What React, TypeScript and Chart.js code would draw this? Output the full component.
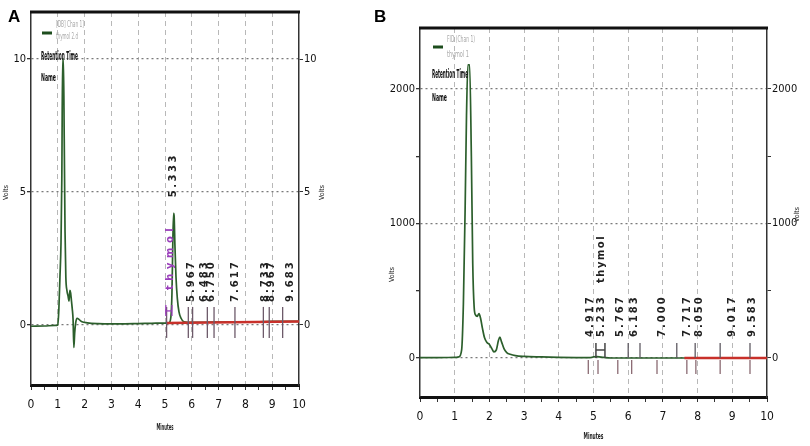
import { useEffect, useRef } from 'react';
import { Chart, registerables } from 'chart.js';

Chart.register(...registerables);

// ---------- shared axis values ----------
const MINUTE_TICKS = [0, 0.5, 1, 1.5, 2, 2.5, 3, 3.5, 4, 4.5, 5, 5.5, 6, 6.5, 7, 7.5, 8, 8.5, 9, 9.5, 10];
const MINUTE_LABELS = [0, 1, 2, 3, 4, 5, 6, 7, 8, 9, 10];

// ---------- panel A (Volts) ----------
const TIME_A = [0, 0.5, 0.9, 1.0, 1.04, 1.08, 1.12, 1.15, 1.18, 1.21, 1.24, 1.27, 1.3, 1.34, 1.38, 1.42, 1.45, 1.48, 1.51, 1.54, 1.57, 1.6, 1.63, 1.67, 1.72, 1.8, 1.9, 2.1, 2.5, 3.0, 3.5, 4.0, 4.5, 5.0, 5.15, 5.22, 5.26, 5.29, 5.32, 5.34, 5.37, 5.41, 5.46, 5.52, 5.6, 5.7, 5.85, 6.5, 7.0, 7.5, 8.0, 8.5, 9.0, 9.5, 10];
const SIGNAL_A = [-0.05, -0.04, -0.02, 0.0, 0.6, 1.8, 3.1, 5.5, 10.0, 10.0, 7.0, 3.5, 1.8, 1.3, 1.1, 0.9, 1.3, 1.2, 0.9, 0.6, 0.2, -0.85, -0.3, 0.1, 0.25, 0.2, 0.12, 0.08, 0.05, 0.04, 0.04, 0.05, 0.06, 0.07, 0.08, 0.3, 1.2, 3.0, 4.2, 4.1, 3.0, 1.8, 1.0, 0.5, 0.25, 0.12, 0.1, 0.1, 0.11, 0.11, 0.12, 0.12, 0.13, 0.13, 0.13];
const INTEG_TIME_A = [5.06, 10];
const INTEG_SIGNAL_A = [0.07, 0.13];
const PEAK_TIME_A = [5.967, 6.483, 6.75, 7.617, 8.733, 8.967, 9.683];
const PEAK_LABEL_A = ['5.967', '6.483', '6.750', '7.617', '8.733', '8.967', '9.683'];
const MARK_TIME_A = [5.06, 5.87, 6.03, 6.58, 6.83, 7.61, 8.67, 8.89, 9.39];
const THYMOL_TIME_A = 5.333;
const THYMOL_HEIGHT_A = 4.2;
const BRACKET_A = [5.03, 5.26];
const Y_TICKS_A = [0, 5, 10];
const Y_LABELS_A = [0, 5, 10];

// ---------- panel B (mVolts) ----------
const TIME_B = [0, 0.5, 1.0, 1.12, 1.2, 1.25, 1.3, 1.34, 1.38, 1.43, 1.48, 1.52, 1.56, 1.6, 1.65, 1.7, 1.75, 1.8, 1.86, 1.93, 2.0, 2.07, 2.13, 2.2, 2.26, 2.3, 2.35, 2.42, 2.5, 2.6, 2.75, 3.0, 3.5, 4.0, 4.5, 4.9, 5.0, 5.1, 5.3, 5.5, 6, 7, 8, 9, 10];
const SIGNAL_B = [3, 3, 4, 8, 60, 400, 1100, 1800, 2180, 2180, 1500, 700, 380, 320, 310, 330, 290, 220, 150, 115, 100, 70, 45, 60, 130, 155, 120, 70, 40, 28, 18, 12, 8, 5, 3, 2, 8, 10, 4, 0, 0, 0, 0, 0, 0];
const INTEG_TIME_B = [7.62, 10];
const INTEG_SIGNAL_B = [0, 0];
const PEAK_TIME_B = [4.917, 5.233, 5.767, 6.183, 7.0, 7.717, 8.05, 9.017, 9.583];
const PEAK_LABEL_B = ['4.917', '5.233', '5.767', '6.183', '7.000', '7.717', '8.050', '9.017', '9.583'];
const MARK_UP_B = [6.0, 6.34, 7.4, 7.93, 8.65, 9.51];
const MARK_DOWN_B = [4.85, 5.13, 5.7, 6.1, 6.83, 7.69, 7.95, 8.65, 9.51];
const THYMOL_TIME_B = 5.21;
const BRACKET_B = [5.07, 5.33];
const Y_TICKS_B = [0, 500, 1000, 1500, 2000];
const Y_LABELS_B = [0, 1000, 2000];

const NARROW = "'Liberation Sans Narrow', 'DejaVu Sans Condensed', 'Liberation Sans', sans-serif";

type Cfg = {
  key: string;
  left: number; width: number; height: number;
  leftW: number; rightW: number; top: number; xAxisH: number;
  yMin: number; yMax: number; yTicks: number[]; yLabels: number[];
  time: number[]; signal: number[]; integT: number[]; integS: number[];
  draw: (ctx: CanvasRenderingContext2D, X: (t: number) => number, Y: (v: number) => number, a: any) => void;
};

function vtext(ctx: CanvasRenderingContext2D, s: string, x: number, yBottom: number, font: string, color: string, spacing: string) {
  ctx.save();
  ctx.translate(x, yBottom);
  ctx.rotate(-Math.PI / 2);
  ctx.font = font;
  ctx.fillStyle = color;
  ctx.textAlign = 'left';
  ctx.textBaseline = 'middle';
  (ctx as any).letterSpacing = spacing;
  ctx.fillText(s, 0, 0);
  ctx.restore();
}

function htext(ctx: CanvasRenderingContext2D, s: string, x: number, y: number, font: string, color: string, maxW?: number, align: CanvasTextAlign = 'left') {
  ctx.save();
  ctx.font = font;
  ctx.fillStyle = color;
  ctx.textAlign = align;
  ctx.textBaseline = 'middle';
  if (maxW) ctx.fillText(s, x, y, maxW); else ctx.fillText(s, x, y);
  ctx.restore();
}

function vline(ctx: CanvasRenderingContext2D, x: number, y1: number, y2: number, color: string, w: number) {
  ctx.save();
  ctx.strokeStyle = color;
  ctx.lineWidth = w;
  ctx.beginPath();
  ctx.moveTo(x, y1);
  ctx.lineTo(x, y2);
  ctx.stroke();
  ctx.restore();
}

function legendBlock(ctx: CanvasRenderingContext2D, x: number, yLine: number, l1: string, l2: string, y1: number, y2: number, yRT: number, yName: number, rtW: number) {
  ctx.save();
  ctx.strokeStyle = '#1d4d1d';
  ctx.lineWidth = 3;
  ctx.beginPath();
  ctx.moveTo(x + 1, yLine);
  ctx.lineTo(x + 11, yLine);
  ctx.stroke();
  ctx.restore();
  htext(ctx, l1, x + 15, y1, `8px ${NARROW}`, '#a8a8a8', 28);
  htext(ctx, l2, x + 15, y2, `8px ${NARROW}`, '#a8a8a8', 22);
  htext(ctx, 'Retention Time', x, yRT, `bold 12px ${NARROW}`, '#111', rtW);
  htext(ctx, 'Name', x, yName, `bold 11px ${NARROW}`, '#111', 15);
}

const cfgA: Cfg = {
  key: 'A', left: 0, width: 370, height: 446,
  leftW: 31, rightW: 71, top: 12, xAxisH: 61,
  yMin: -2.26, yMax: 11.77, yTicks: Y_TICKS_A, yLabels: Y_LABELS_A,
  time: TIME_A, signal: SIGNAL_A, integT: INTEG_TIME_A, integS: INTEG_SIGNAL_A,
  draw: (ctx, X, Y, a) => {
    const y0 = Y(0);
    MARK_TIME_A.forEach((t) => vline(ctx, X(t), y0 - 18, y0 + 13, '#6d5a6a', 1.3));
    PEAK_TIME_A.forEach((t, i) => vtext(ctx, PEAK_LABEL_A[i], X(t), y0 - 23, `bold 10px 'DejaVu Sans'`, '#222', '2px'));
    vtext(ctx, 'thymol', X(THYMOL_TIME_A) - 4, y0 - 35, `bold 10px 'DejaVu Sans'`, '#9a3dbb', '4.5px');
    vtext(ctx, THYMOL_TIME_A.toFixed(3), X(THYMOL_TIME_A) - 1, Y(THYMOL_HEIGHT_A) - 16, `bold 10px 'DejaVu Sans'`, '#222', '2.5px');
    const bx1 = X(BRACKET_A[0]), bx2 = X(BRACKET_A[1]);
    vline(ctx, bx1, y0 - 20, y0 - 9, '#9a3dbb', 1.3);
    vline(ctx, bx2, y0 - 20, y0 - 9, '#9a3dbb', 1.3);
    ctx.save(); ctx.strokeStyle = '#9a3dbb'; ctx.lineWidth = 1.3;
    ctx.beginPath(); ctx.moveTo(bx1, y0 - 14); ctx.lineTo(bx2, y0 - 14); ctx.stroke(); ctx.restore();
    legendBlock(ctx, 41, 33, '[DB] Chan 1]', 'thymol 2.d', 25, 37, 57, 78, 37);
    htext(ctx, 'A', 8, 17, `bold 17px 'Liberation Sans', sans-serif`, '#000');
    vtext(ctx, 'Volts', 6, 200, `7px ${NARROW}`, '#222', '0px');
    vtext(ctx, 'Volts', 322, 200, `7px ${NARROW}`, '#222', '0px');
    htext(ctx, 'Minutes', (a.left + a.right) / 2, 428, `bold 9px ${NARROW}`, '#222', 17, 'center');
  },
};

const cfgB: Cfg = {
  key: 'B', left: 370, width: 440, height: 446,
  leftW: 50, rightW: 43, top: 28, xAxisH: 49,
  yMin: -290, yMax: 2453, yTicks: Y_TICKS_B, yLabels: Y_LABELS_B,
  time: TIME_B, signal: SIGNAL_B, integT: INTEG_TIME_B, integS: INTEG_SIGNAL_B,
  draw: (ctx, X, Y, a) => {
    const y0 = Y(0);
    MARK_UP_B.forEach((t) => vline(ctx, X(t), y0 - 15, y0, '#5f5a62', 1.3));
    MARK_DOWN_B.forEach((t) => vline(ctx, X(t), y0 + 2, y0 + 16, '#8a6a72', 1.3));
    PEAK_TIME_B.forEach((t, i) => vtext(ctx, PEAK_LABEL_B[i], X(t), y0 - 21, `bold 10px 'DejaVu Sans'`, '#222', '2px'));
    vtext(ctx, 'thymol', X(THYMOL_TIME_B) + 1, y0 - 75, `bold 10px 'DejaVu Sans'`, '#222', '1.5px');
    const bx1 = X(BRACKET_B[0]), bx2 = X(BRACKET_B[1]);
    vline(ctx, bx1, y0 - 15, y0, '#444', 1.5);
    vline(ctx, bx2, y0 - 15, y0, '#444', 1.5);
    ctx.save(); ctx.strokeStyle = '#444'; ctx.lineWidth = 1.5;
    ctx.beginPath(); ctx.moveTo(bx1, y0 - 8); ctx.lineTo(bx2, y0 - 8); ctx.stroke(); ctx.restore();
    legendBlock(ctx, 62, 47, 'FID (Chan 1)', 'thymol 1', 40, 55, 75, 98, 36);
    htext(ctx, 'B', 4, 17, `bold 17px 'Liberation Sans', sans-serif`, '#000');
    vtext(ctx, 'Volts', 22, 282, `7px ${NARROW}`, '#222', '0px');
    vtext(ctx, 'Volts', 427, 222, `7px ${NARROW}`, '#222', '0px');
    htext(ctx, 'Minutes', (a.left + a.right) / 2, 437, `bold 9px ${NARROW}`, '#222', 20, 'center');
  },
};

function Panel({ cfg }: { cfg: Cfg }) {
  const ref = useRef<HTMLCanvasElement>(null);
  useEffect(() => {
    if (!ref.current) return;
    const tickFont = { family: NARROW, size: 11 };
    const overlay = {
      id: 'overlay' + cfg.key,
      afterDraw(chart: any) {
        const { ctx, chartArea: a, scales } = chart;
        const X = (t: number) => scales.x.getPixelForValue(t);
        const Y = (v: number) => scales.y.getPixelForValue(v);
        ctx.save();
        ctx.strokeStyle = '#111';
        ctx.lineWidth = 3;
        ctx.beginPath();
        ctx.moveTo(a.left - 1, a.top);
        ctx.lineTo(a.right + 1, a.top);
        ctx.stroke();
        ctx.restore();
        cfg.draw(ctx, X, Y, a);
      },
    };
    const chart = new Chart(ref.current, {
      type: 'line',
      data: {
        datasets: [
          {
            data: cfg.integT.map((t, i) => ({ x: t, y: cfg.integS[i] })),
            borderColor: '#c8302a',
            borderWidth: 2.5,
            pointRadius: 0,
          },
          {
            data: cfg.time.map((t, i) => ({ x: t, y: cfg.signal[i] })),
            borderColor: '#2c5f2c',
            borderWidth: 1.7,
            pointRadius: 0,
            cubicInterpolationMode: 'monotone',
          },
        ],
      },
      options: {
        animation: false,
        responsive: false,
        events: [],
        layout: { padding: { top: cfg.top, left: 0, right: 0, bottom: 0 } },
        plugins: { legend: { display: false }, tooltip: { enabled: false } },
        scales: {
          x: {
            type: 'linear', min: 0, max: 10, position: 'bottom',
            afterFit: (s: any) => { s.height = cfg.xAxisH; },
            afterBuildTicks: (s: any) => { s.ticks = MINUTE_TICKS.map((v) => ({ value: v })); },
            ticks: {
              autoSkip: false, maxRotation: 0, padding: 8, color: '#111',
              font: { family: NARROW, size: 12 },
              callback: (v: any) => (MINUTE_LABELS.includes(Number(v)) ? String(v) : ''),
            },
            grid: {
              color: (c: any) => (c.tick && MINUTE_LABELS.includes(c.tick.value) && c.tick.value > 0 && c.tick.value < 10 ? '#b8b8b8' : 'rgba(0,0,0,0)'),
              tickColor: '#333', tickLength: 5, lineWidth: 1,
            },
            border: { display: true, color: '#111', width: 3, dash: [5, 4] },
          },
          y: {
            type: 'linear', min: cfg.yMin, max: cfg.yMax, position: 'left',
            afterFit: (s: any) => { s.width = cfg.leftW; },
            afterBuildTicks: (s: any) => { s.ticks = cfg.yTicks.map((v) => ({ value: v })); },
            ticks: { padding: 1, color: '#111', font: tickFont, callback: (v: any) => (cfg.yLabels.includes(Number(v)) ? String(v) : '') },
            grid: {
              color: (c: any) => (c.tick && cfg.yLabels.includes(c.tick.value) ? '#7a7a7a' : 'rgba(0,0,0,0)'),
              tickColor: '#333', tickLength: 4, lineWidth: 1.3,
            },
            border: { display: true, color: '#333', width: 1.5, dash: [2, 3] },
          },
          y2: {
            type: 'linear', min: cfg.yMin, max: cfg.yMax, position: 'right',
            afterFit: (s: any) => { s.width = cfg.rightW; },
            afterBuildTicks: (s: any) => { s.ticks = cfg.yTicks.map((v) => ({ value: v })); },
            ticks: { padding: 1, color: '#111', font: tickFont, callback: (v: any) => (cfg.yLabels.includes(Number(v)) ? String(v) : '') },
            grid: { drawOnChartArea: false, tickColor: '#333', tickLength: 4 },
            border: { display: true, color: '#333', width: 1.5 },
          },
        },
      } as any,
      plugins: [overlay],
    });
    return () => chart.destroy();
  }, [cfg]);
  return (
    <canvas
      ref={ref}
      width={cfg.width}
      height={cfg.height}
      style={{ position: 'absolute', left: cfg.left, top: 0, width: cfg.width, height: cfg.height }}
    />
  );
}

export default function App() {
  return (
    <div style={{ position: 'absolute', left: 0, top: 0, width: 810, height: 446, background: '#fff' }}>
      <Panel cfg={cfgA} />
      <Panel cfg={cfgB} />
    </div>
  );
}
